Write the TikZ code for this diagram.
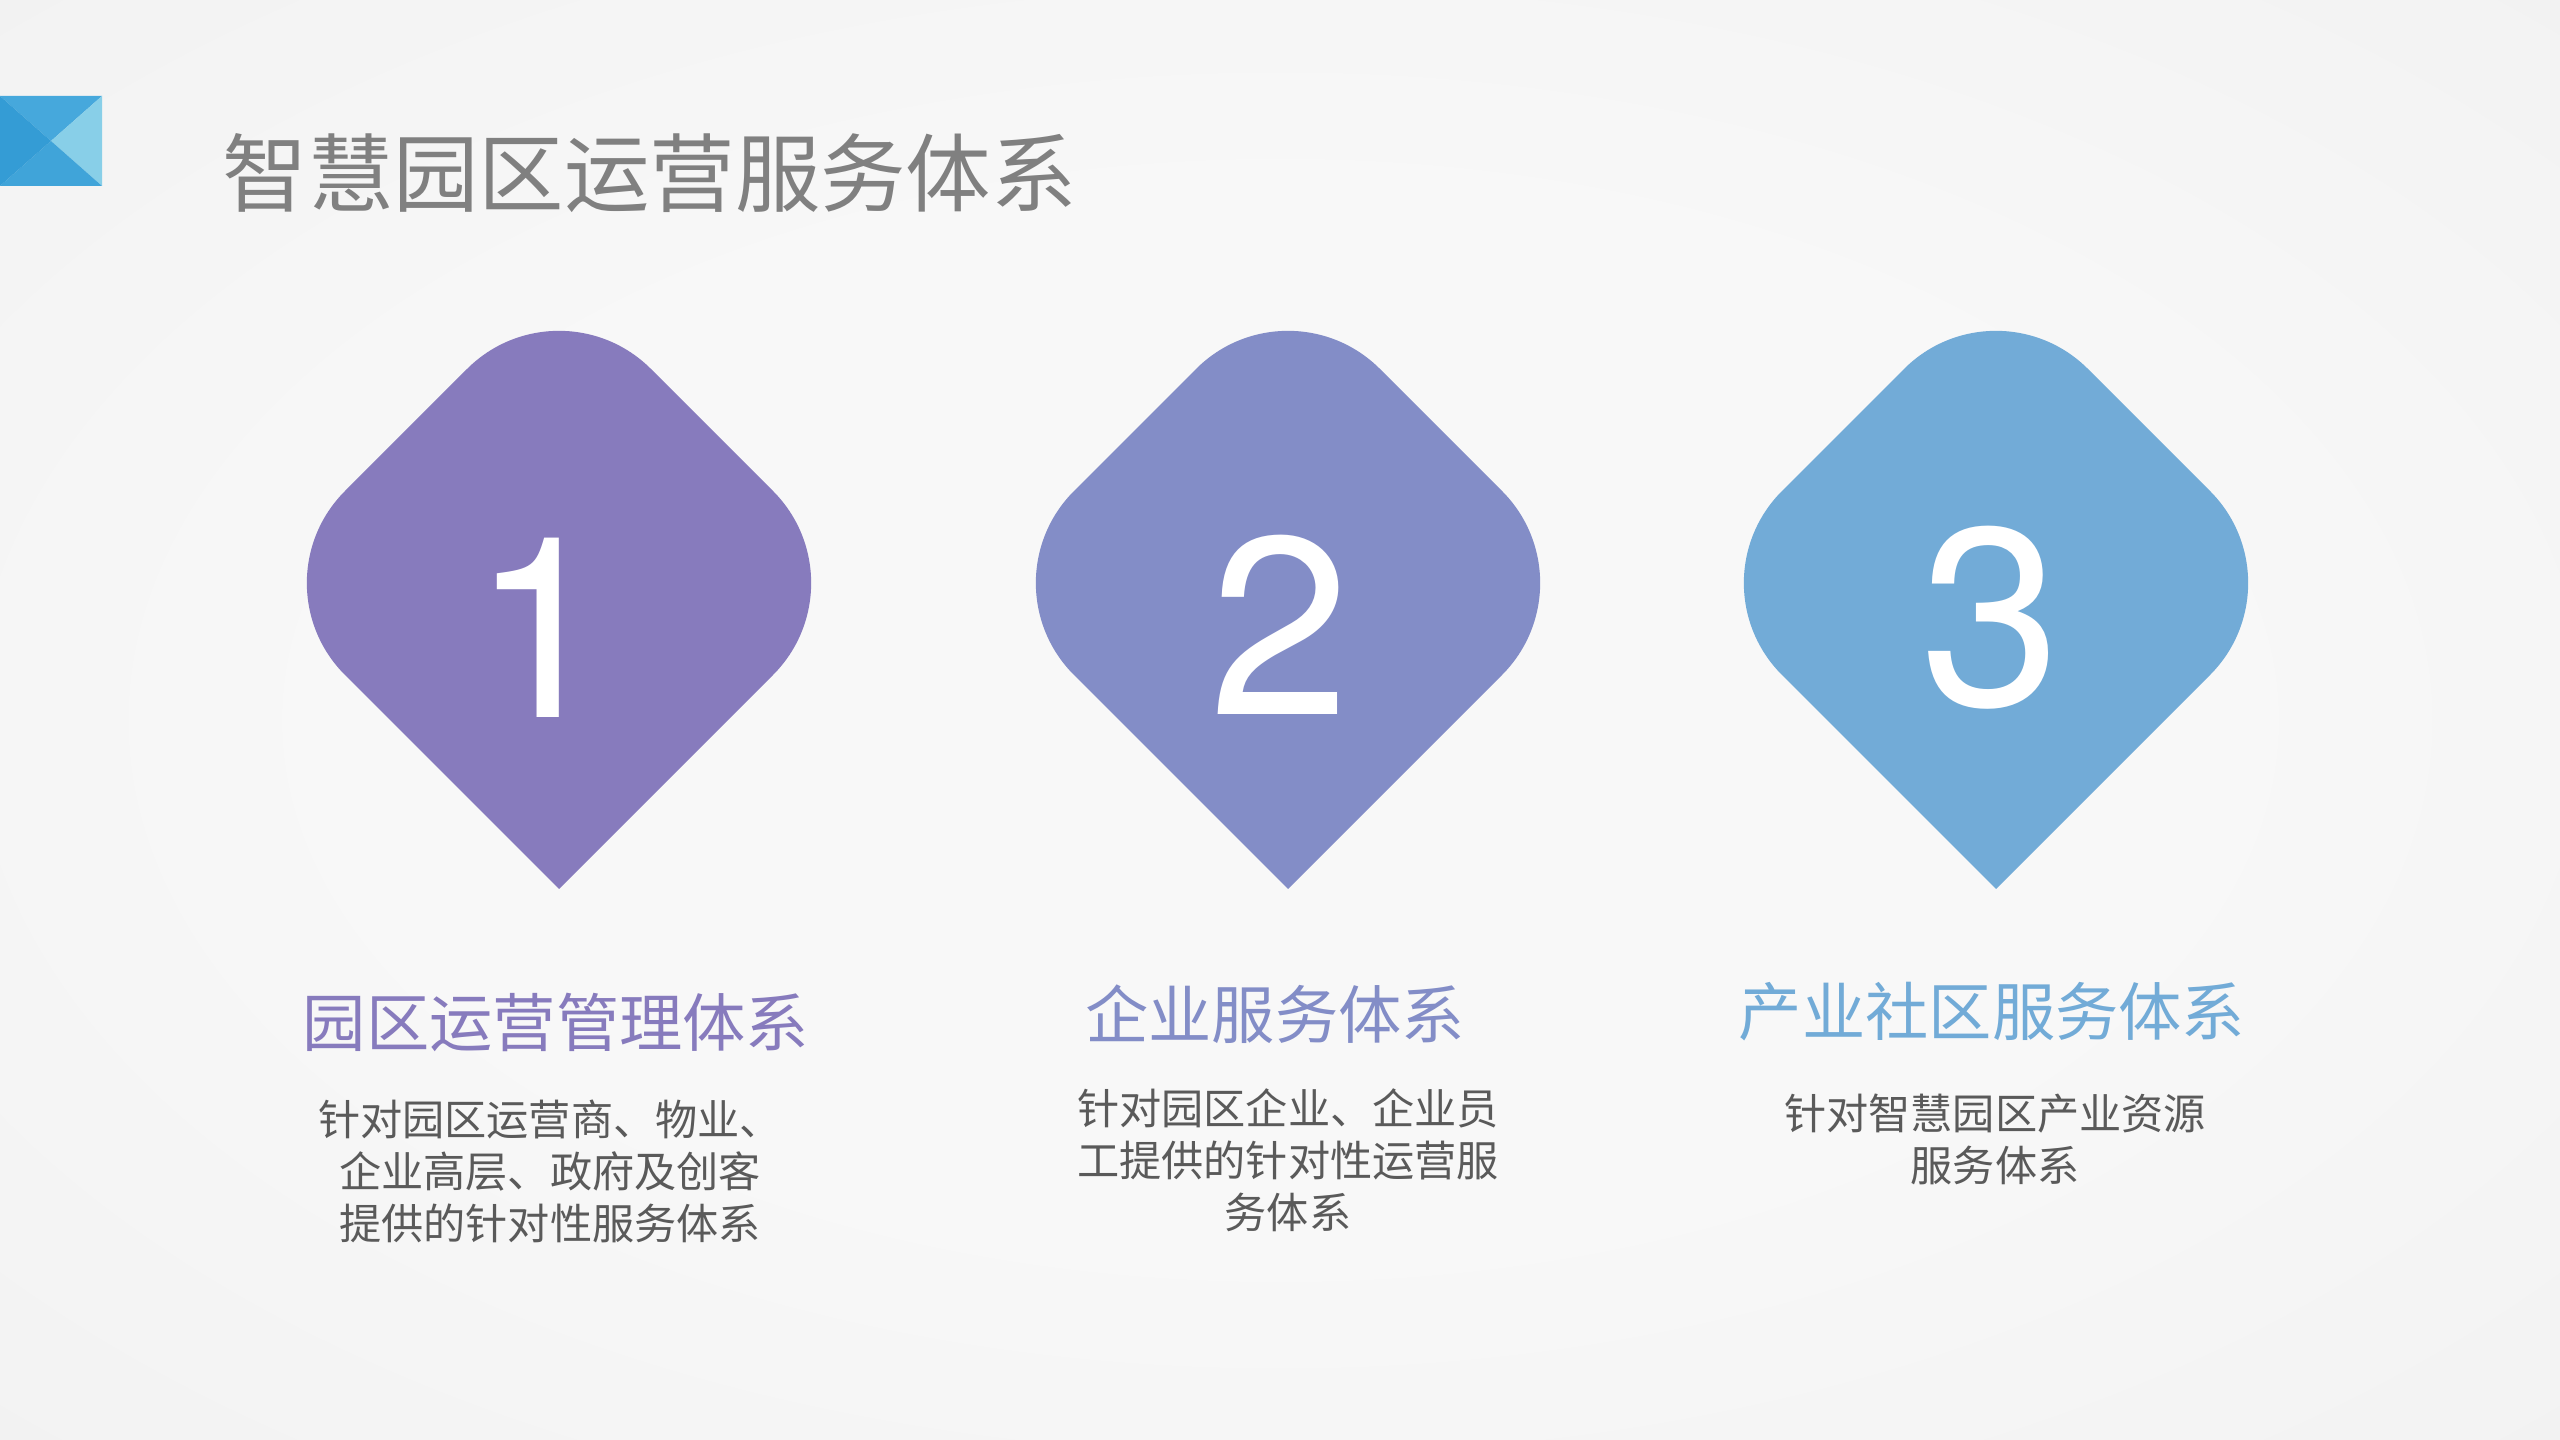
\documentclass[tikz,border=0pt]{standalone}
\usepackage{fontspec}
\setmainfont{Liberation Sans}
\newfontfamily\cjk{Noto Sans CJK SC}
\newfontfamily\digitfont{TeX Gyre Heros}
\definecolor{bgin}{RGB}{248,248,248}
\definecolor{bgout}{RGB}{230,230,230}
\definecolor{violet1}{RGB}{135,123,189}
\definecolor{violet2}{RGB}{131,141,199}
\definecolor{blue3}{RGB}{114,171,215}
\definecolor{titlegray}{RGB}{128,128,128}
\definecolor{textgray}{RGB}{90,90,90}
\definecolor{logoL}{RGB}{52,156,213}
\definecolor{logoT}{RGB}{70,168,220}
\definecolor{logoB}{RGB}{64,164,217}
\definecolor{logoR}{RGB}{136,207,232}
\pgfdeclareradialshading{slidebg}{\pgfpoint{0bp}{0bp}}{color(0bp)=(bgin); color(18bp)=(bgin); color(72bp)=(bgout)}
\begin{document}
\begin{tikzpicture}
[x=0.1mm, y=-0.1mm, line join=round, inner sep=0pt,
 digit/.style={font=\digitfont\fontsize{72pt}{72pt}\selectfont, text=white, anchor=base},
 head/.style={font=\cjk\fontsize{18pt}{18pt}\selectfont},
 body/.style={font=\cjk\fontsize{12pt}{14.8pt}\selectfont, text=textgray, align=center}]
\useasboundingbox (0,0) rectangle (2560,1440);
\shade[shading=slidebg] (0,0) rectangle (2560,1440);
% corner mark
\fill[logoT] (0,96) -- (102,96) -- (51,141) -- cycle;
\fill[logoR] (102,96) -- (102,186) -- (51,141) -- cycle;
\fill[logoB] (0,186) -- (102,186) -- (51,141) -- cycle;
\fill[logoL] (0,96) -- (51,141) -- (0,186) -- cycle;
\node[anchor=west, font=\cjk\fontsize{24.3pt}{24.3pt}\selectfont, text=titlegray] (title) at (222,173) {智慧园区运营服务体系};
% three items
\foreach \cx/\col/\n/\dx/\by/\tx/\ty/\txt in {%
 559/violet1/1/-17/718/550/1171/{针对园区运营商、物业、\\企业高层、政府及创客\\提供的针对性服务体系},
 1288/violet2/2/-8/715/1288/1160/{针对园区企业、企业员\\工提供的针对性运营服\\务体系},
 1996/blue3/3/-5/706/1995/1139/{针对智慧园区产业资源\\服务体系}}
{
\fill[\col, rounded corners=1.3cm] (\cx,889) -- (\cx-306,583) -- (\cx,277) -- (\cx+306,583) -- (\cx,889);
\node[digit] (num\n) at (\cx+\dx,\by) {\n};
\node[body] (txt\n) at (\tx,\ty) {\txt};
}
\node[head, text=violet1] (head1) at (556,1022) {园区运营管理体系};
\node[head, text=violet2] (head2) at (1275,1014) {企业服务体系};
\node[head, text=blue3] (head3) at (1992,1012) {产业社区服务体系};
\end{tikzpicture}
\end{document}
